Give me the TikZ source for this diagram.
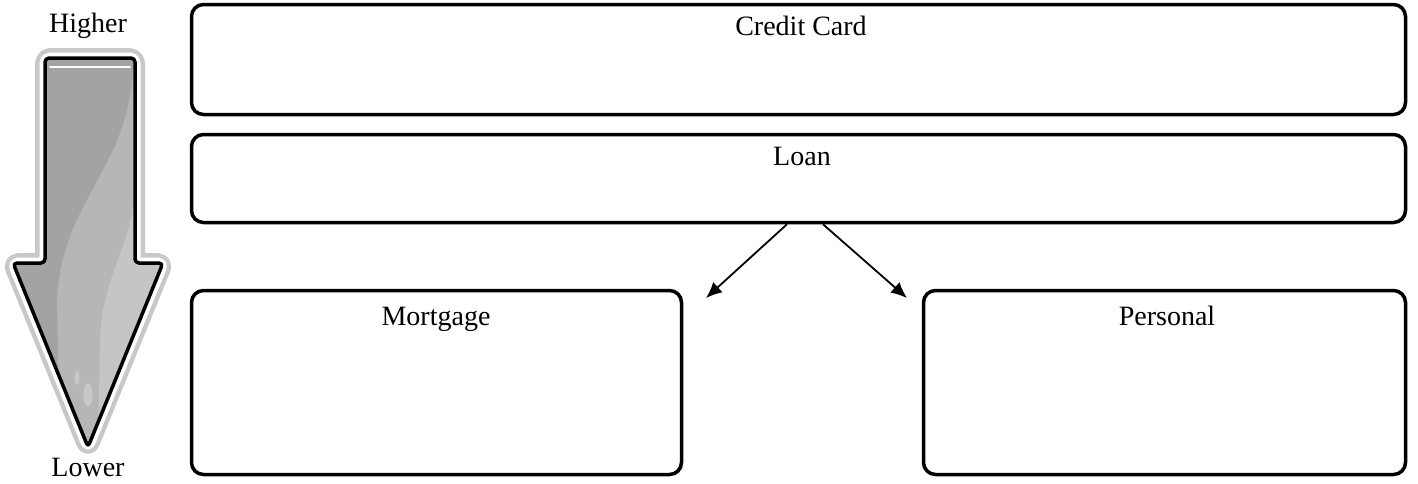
\documentclass[tikz,border=0pt]{standalone}
\usepackage{fontspec}
\setmainfont{Liberation Serif}
\usetikzlibrary{arrows.meta}

\definecolor{halogray}{HTML}{C8C8C8}
\definecolor{arrowgray}{HTML}{A3A3A3}
\definecolor{shinegray}{HTML}{B6B6B6}
\definecolor{lightgray}{HTML}{C5C5C5}

\begin{document}
\begin{tikzpicture}[
            x=1pt, y=-1pt,
            box/.style={draw, line width=3.5pt, rounded corners=12pt, inner sep=0pt},
            lbl/.style={anchor=base, inner sep=0pt, font=\fontsize{28}{34}\selectfont},
            link/.style={line width=1.8pt, -{Latex[length=16pt,width=14pt]}}
        ]
        \useasboundingbox (0,0) rectangle (1418,483);
        % the big arrow on the left
        \def\arrowpath{(45,58) -- (135,58) -- (135,263) -- (163,263) -- (88,447) -- (13,263) -- (45,263) -- cycle}
        \draw[halogray, line width=20pt, line join=round, rounded corners=6pt] \arrowpath;
        \draw[white, line width=11pt, line join=round, rounded corners=5pt] \arrowpath;
        \fill[arrowgray, rounded corners=4pt] \arrowpath;
        \begin{scope}
            \clip[rounded corners=4pt] \arrowpath;
            \fill[shinegray] (133,70) .. controls (128,170) and (62,200) .. (57,300)
                -- (60,450) -- (180,450) -- (180,60) -- cycle;
            \fill[lightgray] (133,205) .. controls (128,250) and (102,280) .. (100,340)
                -- (98,450) -- (180,450) -- (180,200) -- cycle;
            \fill[halogray] (77,378) ellipse (2.5 and 7);
            \fill[halogray] (88,395) ellipse (4.5 and 12);
            \draw[white, line width=2pt, line cap=round] (50,67) -- (130,67);
        \end{scope}
        \draw[line width=3.5pt, line join=round, rounded corners=4pt] \arrowpath;
        \node[lbl] (higher) at (88,32) {Higher};
        \node[lbl] (lower) at (88,476) {Lower};
        % boxes
        \node[box, minimum width=1214pt, minimum height=110pt] (cc) at (798.5,59.5) {};
        \node[box, minimum width=1214pt, minimum height=88pt] (loan) at (798.5,178.5) {};
        \node[box, minimum width=490pt, minimum height=184pt] (mort) at (436.5,382.5) {};
        \node[box, minimum width=482pt, minimum height=184pt] (pers) at (1164.5,382.5) {};
        \node[lbl] (cctext) at (801,35) {Credit Card};
        \node[lbl] (loantext) at (802,165) {Loan};
        \node[lbl] (morttext) at (436,325) {Mortgage};
        \node[lbl] (perstext) at (1167,325) {Personal};
        % arrows out of the loan box
        \coordinate (mtip) at (706,298);
        \coordinate (ptip) at (907,298);
        \draw[link] ([xshift=-11.5pt]loan.south) -- (mtip);
        \draw[link] ([xshift=24.5pt]loan.south) -- (ptip);
        \end{tikzpicture}
\end{document}
